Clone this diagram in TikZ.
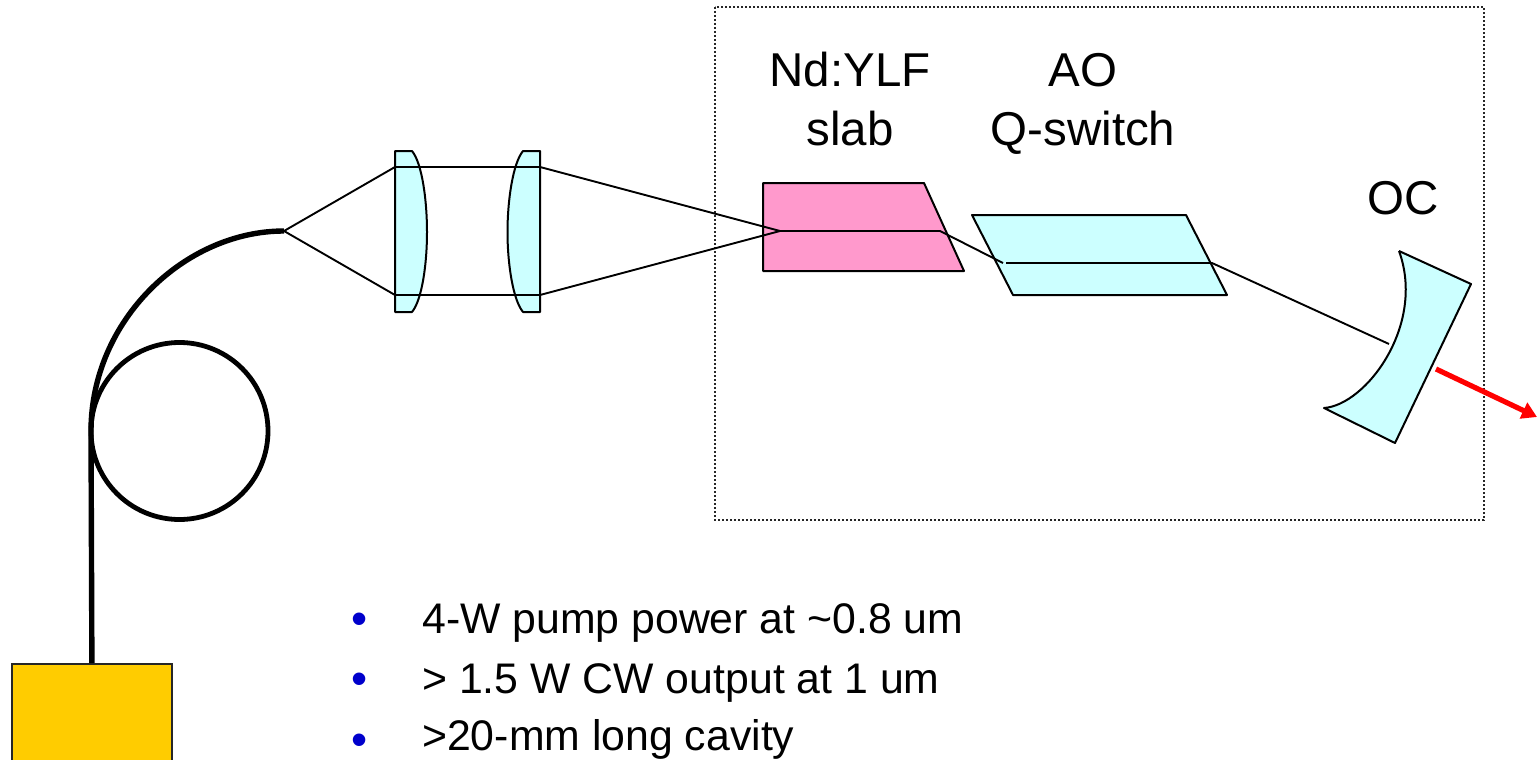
\documentclass[tikz,border=0pt]{standalone}
\usepackage{fontspec}
\setmainfont{Liberation Sans}
\usetikzlibrary{arrows.meta}
\definecolor{optic}{RGB}{204,255,255}
\definecolor{slabpink}{RGB}{255,153,204}
\definecolor{pumpgold}{RGB}{255,204,0}
\definecolor{bulletblue}{RGB}{0,0,204}
\tikzset{
  optics/.style={draw=black,fill=optic,line width=2pt,line join=round},
  beam/.style={draw=black,line width=1.9pt,line join=round},
  fibre/.style={draw=black,line width=5.4pt},
  biglabel/.style={anchor=base,inner sep=0pt,font=\fontsize{47.5}{50}\selectfont},
  itemtext/.style={anchor=base west,inner sep=0pt,font=\fontsize{42.8}{44}\selectfont},
  itembullet/.style={anchor=base,inner sep=0pt,text=bulletblue,font=\fontsize{46}{44}\selectfont},
}
\begin{document}
\begin{tikzpicture}[x=1pt,y=-1pt]
\useasboundingbox[fill=white] (0,0) rectangle (1537,760);
% cavity enclosure
\draw[draw=black!85,line width=2.1pt,dash pattern=on 2.1pt off 1.9pt] (715,7) rectangle (1484,520);
% pump and fibre
\coordinate (fibreEnd) at (284,231);
\coordinate (fibreBend) at (91,431);
\node[draw=black!85,fill=pumpgold,line width=1.8pt,minimum width=160pt,minimum height=98pt,inner sep=0pt,anchor=north west] (pump) at (11,663) {};
\draw[fibre] (pump.north) -- (fibreBend);
\draw[fibre] (fibreBend) .. controls (91,320) and (185,231) .. (fibreEnd);
\draw[draw=black,line width=4.8pt] (179.5,431) circle[radius=88.5];
% lenses
\draw[optics] (395,151) -- (412,151) .. controls (422,163) and (427,200) .. (427,232) .. controls (427,264) and (422,300) .. (412,312) -- (395,312) -- cycle;
\draw[optics] (540,151) -- (523,151) .. controls (513,163) and (507.5,200) .. (507.5,232) .. controls (507.5,264) and (513,300) .. (523,312) -- (540,312) -- cycle;
% crystal and Q-switch
\draw[optics,fill=slabpink] (763,183) -- (924,183) -- (964,271) -- (763,271) -- cycle;
\draw[optics] (972,215) -- (1186,215) -- (1227,295) -- (1013,295) -- cycle;
% output coupler
\draw[optics] (1399,251) -- (1471,284) -- (1395,443) -- (1324,408) .. controls (1366,405) and (1426,325) .. (1399,251);
% beams
\coordinate (lensA) at (395,167);
\coordinate (lensB) at (395,295);
\coordinate (focus) at (780,231);
\draw[beam] (fibreEnd) -- (lensA) -- (540,167) -- (focus);
\draw[beam] (fibreEnd) -- (lensB) -- (540,295) -- (focus);
\coordinate (slabExit) at (940,231);
\coordinate (aoEntry) at (1003,263);
\coordinate (aoStart) at (1006,263);
\coordinate (aoExit) at (1212,263);
\coordinate (ocHit) at (1389,344);
\draw[beam] (focus) -- (slabExit) -- (aoEntry);
\draw[beam] (aoStart) -- (aoExit) -- (ocHit);
% output
\coordinate (outStart) at (1436,369);
\coordinate (outEnd) at (1537,417);
\draw[draw=red,line width=5.2pt,-{Triangle[length=15pt,width=17pt]}] (outStart) -- (outEnd);
% labels
\node[biglabel] (lblNd) at (850,86) {Nd:YLF};
\node[biglabel] (lblSlab) at (850,145) {slab};
\node[biglabel] (lblAO) at (1083,86) {AO};
\node[biglabel] (lblQ) at (1083,145) {Q-switch};
\node[biglabel] (lblOC) at (1403,214) {OC};
\node[itembullet] (b1) at (360,634) {•};
\node[itemtext] (t1) at (422,633) {4-W pump power at \textasciitilde0.8 um};
\node[itembullet] (b2) at (360,694) {•};
\node[itemtext] (t2) at (422,693) {> 1.5 W CW output at 1 um};
\node[itembullet] (b3) at (360,755) {•};
\node[itemtext] (t3) at (422,750.5) {>20-mm long cavity};
\end{tikzpicture}
\end{document}
